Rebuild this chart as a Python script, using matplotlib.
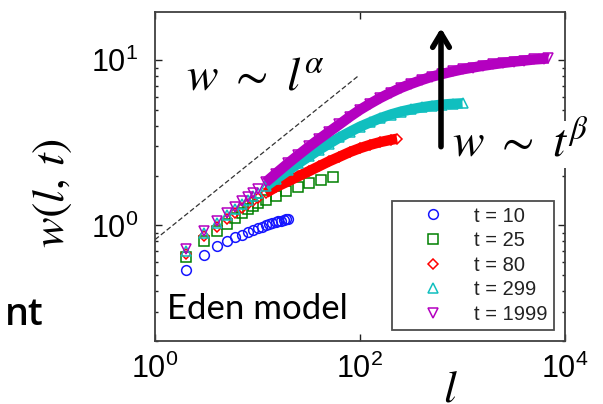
import matplotlib
matplotlib.use('Agg')
import matplotlib.pyplot as plt
from matplotlib.ticker import NullLocator, LogLocator

plt.rcParams['font.family'] = ['Liberation Sans', 'DejaVu Sans']
plt.rcParams['mathtext.fontset'] = 'custom'
plt.rcParams['mathtext.rm'] = 'Liberation Sans'
plt.rcParams['mathtext.it'] = 'Liberation Sans:italic'

# values
low_l = [2, 3, 4, 5, 6, 7, 8, 9, 10]

l_10 = [2, 3, 4, 5, 6, 7, 8, 9, 10, 11, 12, 13, 14, 15, 16, 17, 18, 19, 20]
w_10 = [0.54, 0.66, 0.75, 0.80, 0.85, 0.88, 0.91, 0.94, 0.96, 0.98, 1.00,
        1.02, 1.03, 1.05, 1.06, 1.07, 1.08, 1.09, 1.09]

l_25 = low_l + [12, 15, 19, 25, 32, 42, 55]
w_25 = [0.64, 0.80, 0.92, 1.02, 1.11, 1.18, 1.25, 1.31, 1.36,
        1.43, 1.50, 1.61, 1.71, 1.81, 1.89, 1.97]

band_l = [12, 15, 20, 25, 32, 40, 50, 63, 80, 100, 126, 158, 200, 250, 316,
          400, 500, 630, 800, 1000, 1260, 1580, 2000, 2500, 3160, 4000, 5000,
          6300, 6900]

l_80 = low_l + band_l[:13] + [230]
w_80 = [0.67, 0.86, 0.98, 1.09, 1.18, 1.27, 1.34, 1.41, 1.47,
        1.57, 1.70, 1.85, 1.98, 2.13, 2.28, 2.44, 2.60, 2.78, 2.93, 3.07,
        3.19, 3.29, 3.34]

l_299 = low_l + band_l[:20]
w_299 = [0.70, 0.90, 1.03, 1.15, 1.25, 1.35, 1.43, 1.51, 1.58,
         1.72, 1.90, 2.15, 2.37, 2.62, 2.87, 3.12, 3.40, 3.68, 3.95, 4.20,
         4.45, 4.68, 4.87, 5.03, 5.17, 5.28, 5.37, 5.43, 5.47]

l_1999 = low_l + band_l
w_1999 = [0.72, 0.92, 1.06, 1.19, 1.30, 1.40, 1.49, 1.58, 1.66,
          1.82, 2.05, 2.38, 2.66, 3.00, 3.33, 3.68, 4.08, 4.55, 5.00, 5.45,
          5.90, 6.35, 6.78, 7.18, 7.57, 7.92, 8.22, 8.52, 8.78, 9.00, 9.22,
          9.42, 9.60, 9.77, 9.92, 10.07, 10.17, 10.22]

series = [
    (l_10, w_10, 'o', '#1515ff', 't = 10'),
    (l_25, w_25, 's', '#008000', 't = 25'),
    (l_80, w_80, 'D', '#ff0000', 't = 80'),
    (l_299, w_299, '^', '#10bfbf', 't = 299'),
    (l_1999, w_1999, 'v', '#b400c0', 't = 1999'),
]

# alpha = 1/2 guide line
guide_l = [1, 96]
guide_w = [0.82, 8.0]

fig = plt.figure(figsize=(6.03, 4.04), dpi=100)
ax = fig.add_axes([155/603, 1-341/404, 410/603, 329/404])

for l, w, mk, col, lab in series:
    if len(l) > 20:
        n = len(low_l)
        ax.plot(l[n:], w[n:], '-', color=col, lw=7.5, solid_capstyle='butt')
    ax.plot(l, w, mk, color=col, mfc='none', mec=col, ms=7 if mk != 'D' else 5.5,
            mew=1.1, ls='none', label=lab)

ax.plot(guide_l, guide_w, color='#333333', lw=0.9, ls=(0, (4, 2)))

ax.set_xscale('log')
ax.set_yscale('log')
ax.set_xlim(1, 1e4)
ax.set_ylim(0.2, 19.5)
ax.set_xticks([1, 100, 1e4])
ax.xaxis.set_minor_locator(NullLocator())
ax.yaxis.set_minor_locator(LogLocator(base=10, subs=range(2, 10)))

for s in ax.spines.values():
    s.set_color('#404040')
    s.set_linewidth(1.3)
ax.tick_params(which='both', direction='in', top=True, right=True,
               color='#202020', width=1)
ax.tick_params(which='major', length=5, labelsize=22)
ax.tick_params(which='minor', length=2.5)
ax.tick_params(axis='y', pad=12)
ax.tick_params(axis='x', pad=9)

leg = ax.legend(loc='lower right', bbox_to_anchor=(0.973, 0.033), numpoints=1,
                fontsize=14.5, frameon=True, fancybox=False, borderpad=0.3,
                handlelength=3.5, handletextpad=0.3, labelspacing=0.28,
                borderaxespad=0)
leg.get_frame().set_edgecolor('#202020')
leg.get_frame().set_linewidth(1.3)
for t in leg.get_texts():
    t.set_color('#222222')

# annotations
ax.annotate('', xy=(617, 15.6), xytext=(617, 2.99),
            arrowprops=dict(arrowstyle='->,head_length=1.0,head_width=0.6',
                            lw=4, color='black', shrinkA=0, shrinkB=0))

fig.text(186/603, 1-90/404, r'$w\ \sim\ l^{\alpha}$', fontsize=34,
         math_fontfamily='stix', va='baseline', ha='left')
fig.text(452/603, 1-157/404, r'$w\ \sim\ t^{\beta}$', fontsize=34,
         math_fontfamily='stix', va='baseline', ha='left', zorder=5,
         bbox=dict(facecolor='white', edgecolor='none', pad=1))
fig.text(167/603, 1-319/404, 'Eden model', fontsize=25, family='Lato',
         va='baseline', ha='left')
fig.text(43/603, 1-325/404, 'nt', fontsize=27, family='Open Sans',
         fontweight='semibold', va='baseline', ha='right')
fig.text(52/603, 1-193/404, r'$w(l,\,t)$', fontsize=33, rotation=90,
         math_fontfamily='stix', va='center', ha='center')
fig.text(450/603, 1-401/404, r'$l$', fontsize=33, math_fontfamily='stix',
         va='baseline', ha='center')

fig.savefig('out.png', dpi=100)
